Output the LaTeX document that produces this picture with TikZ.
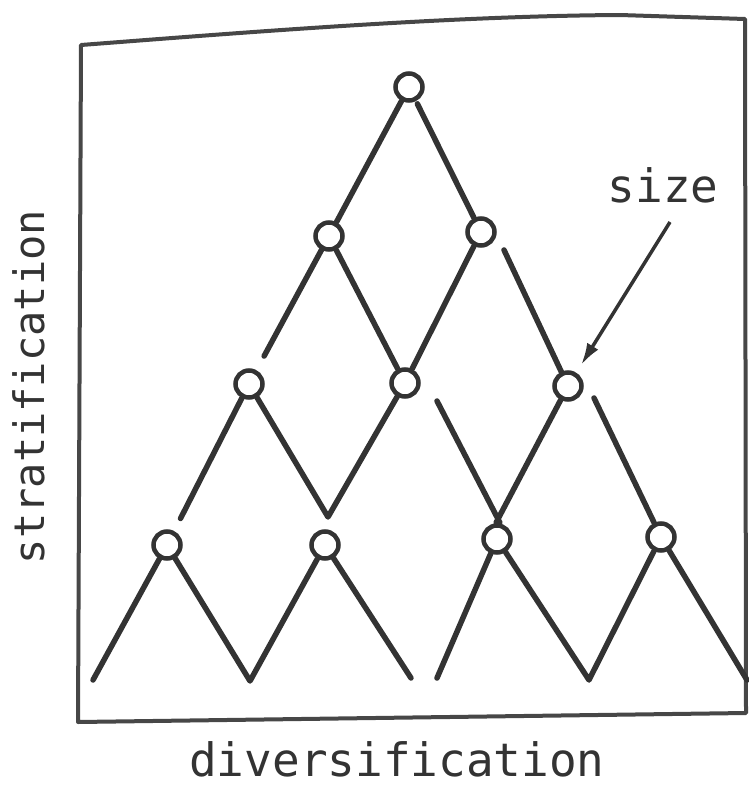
\documentclass[tikz,border=0pt]{standalone}
\usepackage{fontspec}
\newfontfamily\labfont{DejaVu Sans Mono}
\usetikzlibrary{arrows.meta}
\definecolor{ink}{HTML}{333333}
\begin{document}
\begin{tikzpicture}[x=1pt,y=-1pt,
  dot/.style={circle,draw=ink,line width=4.5pt,minimum size=27pt,inner sep=0pt,fill=white},
  link/.style={draw=ink,line width=5.5pt,line cap=round,line join=round},
  frameline/.style={draw=ink!90,line width=4pt,line join=round},
  lab/.style={text=ink,inner sep=0pt,text depth=0pt,font=\labfont\fontsize{46pt}{50pt}\selectfont},
  pointer/.style={draw=ink,line width=3.5pt,-{Latex[length=22pt,width=13pt]}}
]
\useasboundingbox (0,0) rectangle (749,787);
% frame
\draw[frameline] (81,45) .. controls (250,32) and (450,16) .. (620,15) -- (745,19) -- (746,713) -- (78,722) -- cycle;

% nodes
\node[dot] (A)  at (409,87)  {};
\node[dot] (B1) at (329,236) {};
\node[dot] (B2) at (481,232) {};
\node[dot] (C1) at (249,384) {};
\node[dot] (C2) at (405,383) {};
\node[dot] (C3) at (568,386) {};
\node[dot] (D1) at (167,545) {};
\node[dot] (D2) at (325,545) {};
\node[dot] (D3) at (497,539) {};
\node[dot] (D4) at (661,537) {};

% free ends
\coordinate (e1) at (93,680);
\coordinate (v1) at (250,681);
\coordinate (e2) at (411,678);
\coordinate (e3) at (437,678);
\coordinate (v2) at (589,680);
\coordinate (e4) at (747,680);
\coordinate (v23) at (328,517);
\coordinate (x3) at (498,519);
\coordinate (s32) at (437,401);
\coordinate (s34) at (594,398);
\coordinate (s23) at (504,250);
\coordinate (tail) at (670,222);

% connectors
\draw[link] (A) -- (B1);
\draw[link,shorten <=3pt] (A) -- (B2);
\draw[link,shorten >=16pt] (B1) -- (C1);
\draw[link] (B1) -- (C2);
\draw[link] (B2) -- (C2);
\draw[link] (s23) -- (C3);
\draw[link,shorten >=14pt] (C1) -- (D1);
\draw[link] (C1) -- (v23) -- (C2);
\draw[link,shorten >=-4pt] (s32) -- (x3);
\draw[link,shorten >=-4pt] (C3) -- (x3);
\draw[link] (s34) -- (D4);
\draw[link] (e1) -- (D1) -- (v1) -- (D2) -- (e2);
\draw[link] (e3) -- (D3) -- (v2) -- (D4) -- (e4);

% labels
\node[lab,anchor=base] (size) at (663,202) {size};
\draw[pointer,shorten >=9pt] (tail) -- (C3);
\node[lab,anchor=base] (div) at (397,776) {diversification};
\node[lab,anchor=base,rotate=90,font=\labfont\fontsize{42pt}{46pt}\selectfont] (strat) at (44,387) {stratification};
\end{tikzpicture}
\end{document}
